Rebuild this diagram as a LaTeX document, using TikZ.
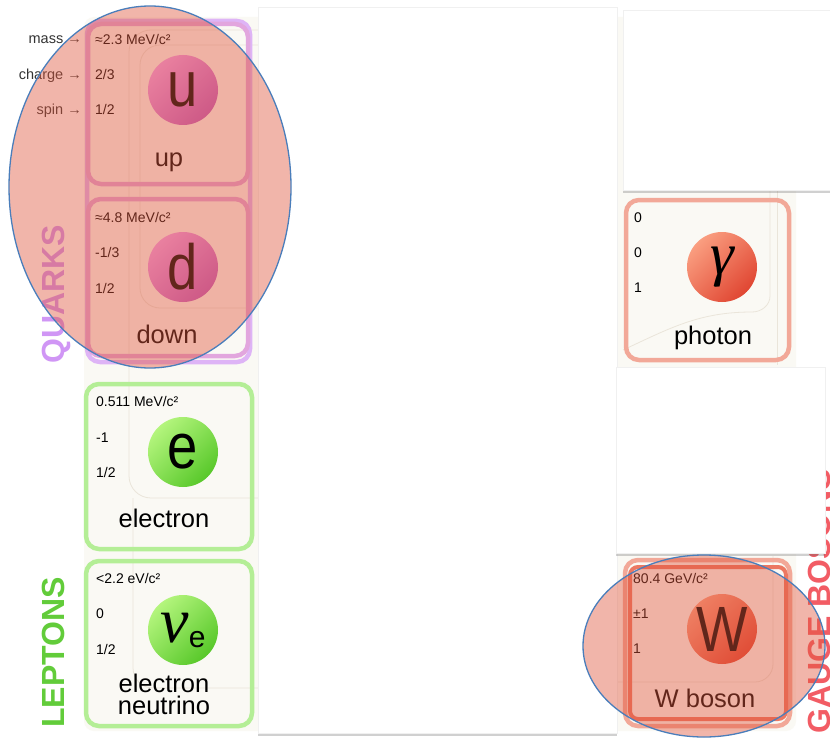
\documentclass[tikz,border=0pt]{standalone}
\usepackage{fontspec}
\usepackage{graphicx}
\setmainfont{Liberation Sans}
\newfontfamily\greekfont{Liberation Serif}
\usetikzlibrary{positioning,shadows}

\definecolor{cream}{RGB}{250,249,244}
\definecolor{decorline}{RGB}{234,229,218}
\definecolor{quarkgrp}{RGB}{222,180,246}
\definecolor{quarkbox}{RGB}{226,166,222}
\definecolor{leptonbox}{RGB}{180,238,150}
\definecolor{bosonbox}{RGB}{242,168,152}
\definecolor{weakbox}{RGB}{236,120,98}
\definecolor{quarklt}{RGB}{240,160,236}
\definecolor{quarkdk}{RGB}{192,92,192}
\definecolor{leptonlt}{RGB}{180,245,125}
\definecolor{leptondk}{RGB}{88,200,42}
\definecolor{bosonlt}{RGB}{250,158,128}
\definecolor{bosondk}{RGB}{224,70,50}
\definecolor{quarktxt}{RGB}{208,150,245}
\definecolor{leptontxt}{RGB}{98,204,58}
\definecolor{bosontxt}{RGB}{242,92,100}
\definecolor{markfill}{RGB}{225,88,62}
\definecolor{markrim}{RGB}{74,126,187}

\begin{document}
\begin{tikzpicture}[%
    x=1pt, y=-1pt,
    cell/.style={line width=4.5pt, rounded corners=13pt},
    decor/.style={draw=decorline, line width=.8pt},
    particle/.style={circle, minimum size=70pt, inner sep=0pt,
      font=\fontsize{64}{64}\selectfont},
    quark/.style={particle, top color=quarklt, bottom color=quarkdk, shading angle=45},
    lepton/.style={particle, top color=leptonlt, bottom color=leptondk, shading angle=45},
    boson/.style={particle, top color=bosonlt, bottom color=bosondk, shading angle=45},
    info/.style={anchor=base west, inner sep=0pt, font=\fontsize{14}{16}\selectfont},
    legend/.style={info, anchor=base east, text=black!80,
      font=\fontsize{14.5}{16}\selectfont},
    pname/.style={anchor=base, inner sep=0pt, align=center,
      font=\fontsize{25.5}{21.5}\selectfont},
    family/.style={rotate=90, anchor=base west, inner sep=0pt,
      font=\fontsize{32}{32}\selectfont\bfseries},
    cover/.style={fill=white, draw=black!6, line width=.4pt,
      drop shadow={shadow xshift=0pt, shadow yshift=-3pt, opacity=.3, fill=black!60}},
    marker/.style={fill=markfill, fill opacity=.44, draw=markrim, line width=1.3pt}
    ]
    \useasboundingbox[fill=white] (0,0) rectangle (830,741);

    % chart background
    \fill[cream, rounded corners=10pt] (84,17) rectangle (796,731);
    \draw[decor, rounded corners=22pt] (258,30) -- (129,30) -- (129,498) -- (258,498);
    \draw[decor, rounded corners=20pt] (258,45) -- (140,45) -- (140,308) -- (258,308);
    \draw[decor, rounded corners=20pt] (133,498) -- (133,688) -- (258,688);
    \draw[decor] (623,350) to[out=25,in=180] (752,312) to[out=0,in=-90] (770,296) -- (770,190);
    \draw[decor] (777,190) -- (777,365);
    \draw[decor, rounded corners=18pt] (617,682) -- (773,682) -- (773,556);

    % group names
    \node[family, text=quarktxt] (quarks) at (64,364) {QUARKS};
    \node[family, text=leptontxt] (leptons) at (64,728) {LEPTONS};
    \node[family, text=bosontxt] (bosons) at (830,734) {GAUGE BOSONS};

    % cells
    \draw[cell, draw=quarkgrp] (87,21) rectangle (250,362);
    \draw[cell, draw=quarkbox] (88,24) rectangle (248,184);
    \draw[cell, draw=quarkbox] (88,199) rectangle (248,356);
    \draw[cell, draw=leptonbox] (86,384) rectangle (252,549);
    \draw[cell, draw=leptonbox] (86,561) rectangle (252,726);
    \draw[cell, draw=bosonbox] (626,200) rectangle (789,360);
    \draw[cell, draw=bosonbox] (625,560) rectangle (790,726);
    \draw[cell, draw=weakbox, line width=4pt, rounded corners=8pt] (630,567) rectangle (786,719);

    % row legend
    \node[legend] (lmass) at (82,44) {mass →};
    \node[legend] (lcharge) at (82,80) {charge →};
    \node[legend] (lspin) at (82,115) {spin →};

    % up
    \node[quark] (u) at (183,90) {\scalebox{.85}[1]{u}};
    \node[info] (um) at (95,45) {≈2.3 MeV/c²};
    \node[info] (uq) at (95,80) {2/3};
    \node[info] (us) at (95,115) {1/2};
    \node[pname] (un) at (169,167) {up};

    % down
    \node[quark] (d) at (183,267) {\scalebox{.85}[1]{d}};
    \node[info] (dm) at (95,222) {≈4.8 MeV/c²};
    \node[info] (dq) at (95,257) {-1/3};
    \node[info] (ds) at (95,293) {1/2};
    \node[pname] (dn) at (167,343) {down};

    % electron
    \node[lepton] (e) at (183,452) {\scalebox{.85}[1]{e}};
    \node[info] (em) at (96,406) {0.511 MeV/c²};
    \node[info] (eq) at (96,442) {-1};
    \node[info] (es) at (96,477) {1/2};
    \node[pname] (en) at (164,527) {electron};

    % electron neutrino
    \node[lepton] (nue) at (183,630) {{\greekfont\itshape\fontsize{64}{64}\selectfont ν}\raisebox{-5pt}{\fontsize{30}{30}\selectfont e}};
    \node[info] (num) at (96,583) {<2.2 eV/c²};
    \node[info] (nuq) at (96,618) {0};
    \node[info] (nus) at (96,654) {1/2};
    \node[pname] (nun) at (164,714) {electron\\neutrino};

    % photon
    \node[boson] (gamma) at (722,267) {{\greekfont\itshape\fontsize{60}{60}\selectfont γ}};
    \node[info] (gm) at (634,222) {0};
    \node[info] (gq) at (634,257) {0};
    \node[info] (gs) at (634,292) {1};
    \node[pname] (gn) at (713,344) {photon};

    % W boson
    \node[boson] (w) at (722,629) {\scalebox{.85}[1]{W}};
    \node[info] (wm) at (633,583) {80.4 GeV/c²};
    \node[info] (wq) at (633,618) {±1};
    \node[info] (ws) at (633,653) {1};
    \node[pname] (wn) at (705,707) {W boson};

    % blank panels
    \path[cover] (258,7) rectangle (617,733);
    \path[cover] (623,10) rectangle (836,190);
    \path[cover] (616,367) rectangle (825,553);

    % highlights
    \path[marker] (150,187) ellipse [x radius=141pt, y radius=181pt];
    \path[marker] (704,646) ellipse [x radius=121pt, y radius=91pt];
\end{tikzpicture}
\end{document}
